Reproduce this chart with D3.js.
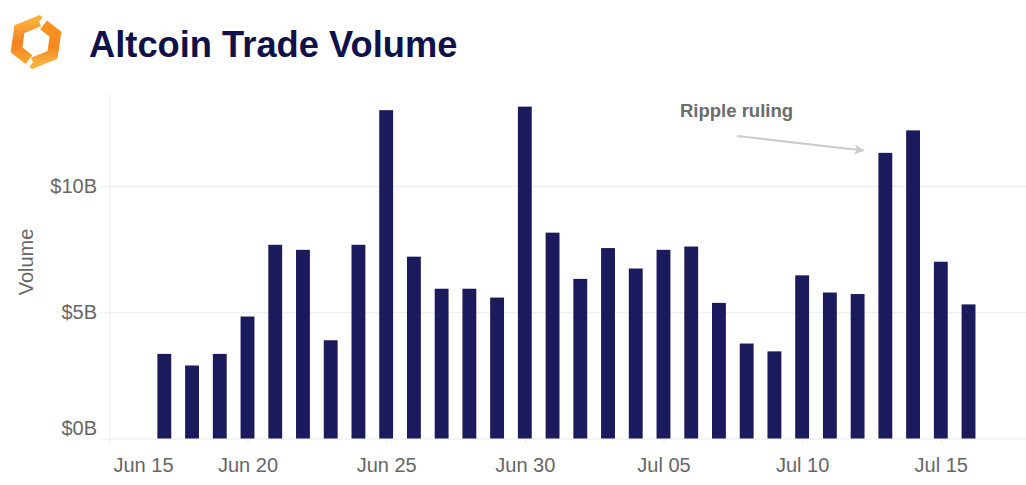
<!DOCTYPE html>
<html>
<head>
<meta charset="utf-8">
<script src="https://cdn.jsdelivr.net/npm/d3@7"></script>
<style>
  body { margin: 0; background: #fff; }
  svg { display: block; font-family: "Liberation Sans", Arial, sans-serif; }
</style>
</head>
<body>
<div id="chart"></div>
<script>
// Daily altcoin trade volume, $B
const dates = [
  "2023-06-17", "2023-06-18", "2023-06-19", "2023-06-20", "2023-06-21", "2023-06-22",
  "2023-06-23", "2023-06-24", "2023-06-25", "2023-06-26", "2023-06-27", "2023-06-28",
  "2023-06-29", "2023-06-30", "2023-07-01", "2023-07-02", "2023-07-03", "2023-07-04",
  "2023-07-05", "2023-07-06", "2023-07-07", "2023-07-08", "2023-07-09", "2023-07-10",
  "2023-07-11", "2023-07-12", "2023-07-13", "2023-07-14", "2023-07-15", "2023-07-16"
];
const volumes = [
  3.35, 2.89, 3.35, 4.83, 7.67, 7.47,
  3.89, 7.67, 13.0, 7.2, 5.93, 5.93,
  5.58, 13.14, 8.15, 6.32, 7.54, 6.73,
  7.47, 7.6, 5.37, 3.76, 3.45, 6.46,
  5.78, 5.72, 11.31, 12.2, 7.0, 5.31
];
const xTicks = ["2023-06-15", "2023-06-20", "2023-06-25", "2023-06-30", "2023-07-05", "2023-07-10", "2023-07-15"];
const yTicks = [0, 5, 10];
const annotation = { text: "Ripple ruling", date: "2023-07-13" };

const width = 1026;
const height = 485;
const margin = { top: 93, right: 2, bottom: 46.5, left: 110 };

const parse = d3.utcParse("%Y-%m-%d");

const svg = d3.select("#chart")
  .append("svg")
  .attr("width", width)
  .attr("height", height);

// Logo: split hexagon ring
const defs = svg.append("defs");
const gLeft = defs.append("linearGradient").attr("id", "logoLeft")
  .attr("x1", 0).attr("y1", 0).attr("x2", 0).attr("y2", 1);
gLeft.append("stop").attr("offset", "0%").attr("stop-color", "#fbb03b");
gLeft.append("stop").attr("offset", "55%").attr("stop-color", "#f47f20");
gLeft.append("stop").attr("offset", "100%").attr("stop-color", "#f9a12a");
const gRight = defs.append("linearGradient").attr("id", "logoRight")
  .attr("x1", 0).attr("y1", 0).attr("x2", 0).attr("y2", 1);
gRight.append("stop").attr("offset", "0%").attr("stop-color", "#f7941d");
gRight.append("stop").attr("offset", "60%").attr("stop-color", "#f58a1f");
gRight.append("stop").attr("offset", "100%").attr("stop-color", "#fbb040");

const hc = [36, 42], hr = 21;
const P = a => {
  const r = (a + 8) * Math.PI / 180;
  return [hc[0] + hr * Math.cos(r), hc[1] + hr * Math.sin(r)];
};
const lerp = (p, q, t) => [p[0] + (q[0] - p[0]) * t, p[1] + (q[1] - p[1]) * t];
const line = d3.line();
svg.append("path")
  .attr("d", line([lerp(P(-90), P(-30), 0.02), P(-90), P(-150), P(150), lerp(P(90), P(150), 0.25)]))
  .attr("fill", "none").attr("stroke", "url(#logoLeft)")
  .attr("stroke-width", 11).attr("stroke-linejoin", "miter");
svg.append("path")
  .attr("d", line([lerp(P(-90), P(-30), 0.28), P(-30), P(30), P(90), lerp(P(90), P(150), 0.02)]))
  .attr("fill", "none").attr("stroke", "url(#logoRight)")
  .attr("stroke-width", 11).attr("stroke-linejoin", "miter");

// Title
svg.append("text")
  .attr("x", 89)
  .attr("y", 57)
  .attr("font-size", 36.3)
  .attr("font-weight", "bold")
  .attr("fill", "#11114a")
  .text("Altcoin Trade Volume");

const x = d3.scaleUtc()
  .domain([new Date(Date.UTC(2023, 5, 15, 1)), new Date(Date.UTC(2023, 6, 18, 0))])
  .range([margin.left, width - margin.right]);

const y = d3.scaleLinear()
  .domain([0, 13.68])
  .range([height - margin.bottom, margin.top]);

// Grid
svg.append("line")
  .attr("x1", margin.left).attr("x2", margin.left)
  .attr("y1", margin.top).attr("y2", y(0))
  .attr("stroke", "#f0f0f0");

svg.append("g")
  .attr("class", "grid")
  .attr("transform", `translate(${margin.left},0)`)
  .call(d3.axisLeft(y)
    .tickValues(yTicks)
    .tickSize(-(width - margin.left))
    .tickFormat(""))
  .call(g => g.select(".domain").remove())
  .call(g => g.selectAll("line").attr("stroke", "#ebebeb"));

// Y axis
const yAxis = svg.append("g")
  .attr("transform", `translate(${margin.left},0)`)
  .call(d3.axisLeft(y)
    .tickValues(yTicks)
    .tickSize(10)
    .tickPadding(3)
    .tickFormat(d => `$${d}B`))
  .call(g => g.select(".domain").remove())
  .call(g => g.selectAll("line").attr("stroke", "#eeeeee"));
yAxis.selectAll("text")
  .attr("font-size", 20)
  .attr("font-family", "Liberation Sans, Arial, sans-serif")
  .attr("fill", "#666")
  // keep the lowest label inside the plot
  .attr("dy", d => d === 0 ? "-0.22em" : "0.32em");

svg.append("text")
  .attr("transform", `translate(33,${262}) rotate(-90)`)
  .attr("text-anchor", "middle")
  .attr("font-size", 20)
  .attr("fill", "#666")
  .text("Volume");

// X axis
const xAxis = svg.append("g")
  .attr("transform", `translate(0,${y(0)})`)
  .call(d3.axisBottom(x)
    .tickValues(xTicks.map(parse))
    .tickSize(6)
    .tickPadding(13)
    .tickFormat(d3.utcFormat("%b %d")))
  .call(g => g.select(".domain").remove())
  .call(g => g.selectAll("line").attr("stroke", "#eeeeee"));
xAxis.selectAll("text")
  .attr("font-size", 20)
  .attr("font-family", "Liberation Sans, Arial, sans-serif")
  .attr("fill", "#666")
  .each(function(d) {
    // clamp label so it does not run past the left edge of the plot
    const w = this.getComputedTextLength();
    const left = x(d) - w / 2;
    if (left < margin.left + 3) d3.select(this).attr("dx", margin.left + 3 - left);
  });

// Bars
const day = x(parse("2023-06-16")) - x(parse("2023-06-15"));
const barW = day * 0.5;
svg.append("g")
  .selectAll("rect")
  .data(dates.map((d, i) => ({ date: parse(d), v: volumes[i] })))
  .join("rect")
  .attr("x", d => x(d.date) - barW / 2)
  .attr("y", d => y(d.v))
  .attr("width", barW)
  .attr("height", d => y(0) - y(d.v))
  .attr("fill", "#1a1a5c");

// Annotation
defs.append("marker")
  .attr("id", "arrow")
  .attr("viewBox", "0 0 10 10")
  .attr("refX", 9).attr("refY", 5)
  .attr("markerWidth", 5).attr("markerHeight", 5)
  .attr("orient", "auto")
  .append("path")
  .attr("d", "M0,0 L10,5 L0,10 L2.5,5 Z")
  .attr("fill", "#cccccc");

const ax = x(parse(annotation.date));
svg.append("text")
  .attr("x", 680)
  .attr("y", 117)
  .attr("font-size", 18.5)
  .attr("font-weight", "bold")
  .attr("fill", "#6b6b6b")
  .text(annotation.text);

svg.append("line")
  .attr("x1", 737).attr("y1", 136)
  .attr("x2", ax - 22).attr("y2", 150.5)
  .attr("stroke", "#cccccc")
  .attr("stroke-width", 2)
  .attr("marker-end", "url(#arrow)");
</script>
</body>
</html>
